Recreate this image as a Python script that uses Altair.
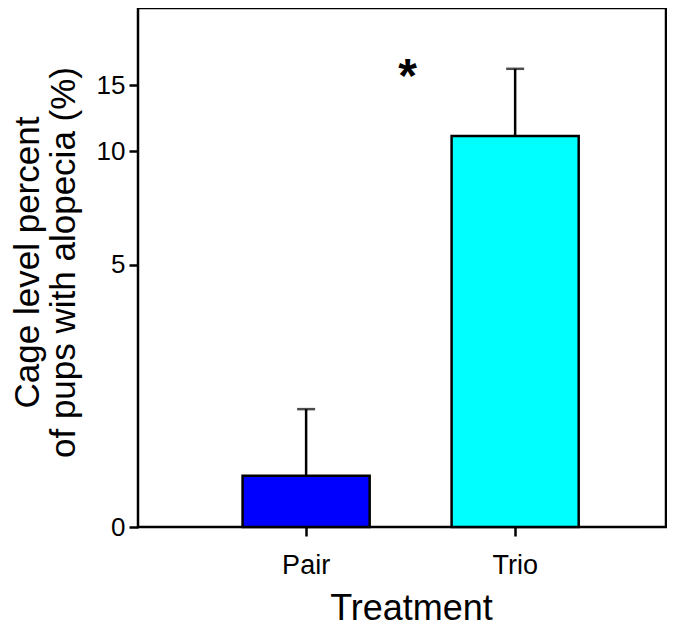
import altair as alt
import pandas as pd

treatments = ["Pair", "Trio"]
means = [1.37, 11.0]
uppers = [2.06, 16.6]
colors = ["#0000FF", "#00FFFF"]
y_ticks = [1, 5, 10, 15]
sig_label = "*"
sig_value = 16.5

df = pd.DataFrame({"Treatment": treatments, "mean": means, "upper": uppers})
sig_df = pd.DataFrame({"Treatment": [treatments[0]], "y": [sig_value], "label": [sig_label]})

FONT = "Liberation Sans"

x_enc = alt.X(
    "Treatment:N",
    sort=treatments,
    scale=alt.Scale(paddingInner=0.392, paddingOuter=0.459, align=0.545),
    axis=alt.Axis(
        title="Treatment", labelAngle=0, labelFontSize=27, labelPadding=16,
        tickSize=9, tickWidth=2.5, tickColor="black", domain=False,
        titleFontSize=36, titleFontWeight="normal", titleX=273, titleY=92,
        titleBaseline="alphabetic", titleAlign="center",
        labelColor="black", titleColor="black", labelFont=FONT, titleFont=FONT,
    ),
)

y_scale = alt.Scale(type="log", domain=[1, 24.1], nice=False)
y_axis = alt.Axis(
    title=["Cage level percent", "of pups with alopecia (%)"],
    values=y_ticks, labelExpr="datum.value == 1 ? '0' : datum.label",
    labelFontSize=26, labelPadding=4, tickSize=9, tickWidth=2.5, tickColor="black",
    domain=False, grid=False, titleFontSize=35, titleFontWeight="normal",
    titleAngle=-90, titleX=-93, titleY=254, titleAlign="center", titleBaseline="bottom",
    titleLineHeight=36,
    labelColor="black", titleColor="black", labelFont=FONT, titleFont=FONT,
)

bars = alt.Chart(df).mark_bar(stroke="black", strokeWidth=2.5).encode(
    x=x_enc,
    y=alt.Y("mean:Q", scale=y_scale, axis=y_axis),
    y2=alt.datum(1),
    color=alt.Color("Treatment:N", scale=alt.Scale(domain=treatments, range=colors), legend=None),
)

rules = alt.Chart(df).mark_rule(color="black", strokeWidth=2.5).encode(
    x=alt.X("Treatment:N", sort=treatments),
    y=alt.Y("mean:Q"),
    y2="upper:Q",
)

caps = alt.Chart(df).mark_tick(color="black", thickness=2.5, size=18, orient="horizontal").encode(
    x=alt.X("Treatment:N", sort=treatments),
    y=alt.Y("upper:Q"),
)

star = alt.Chart(sig_df).mark_text(
    fontSize=48, fontWeight="bold", font=FONT, color="black", baseline="middle", dy=8, dx=38
).encode(
    x=alt.X("Treatment:N", sort=treatments, bandPosition=1),
    y=alt.Y("y:Q"),
    text="label:N",
)

chart = alt.layer(bars, rules, caps, star).properties(
    width=528, height=519,
    autosize=alt.AutoSizeParams(type="none"),
    padding={"left": 130, "top": 0, "right": 1, "bottom": 100},
).configure(background="white").configure_view(stroke="black", strokeWidth=2.5)

chart.save("out.html", embed_options={"renderer": "svg", "actions": False})
